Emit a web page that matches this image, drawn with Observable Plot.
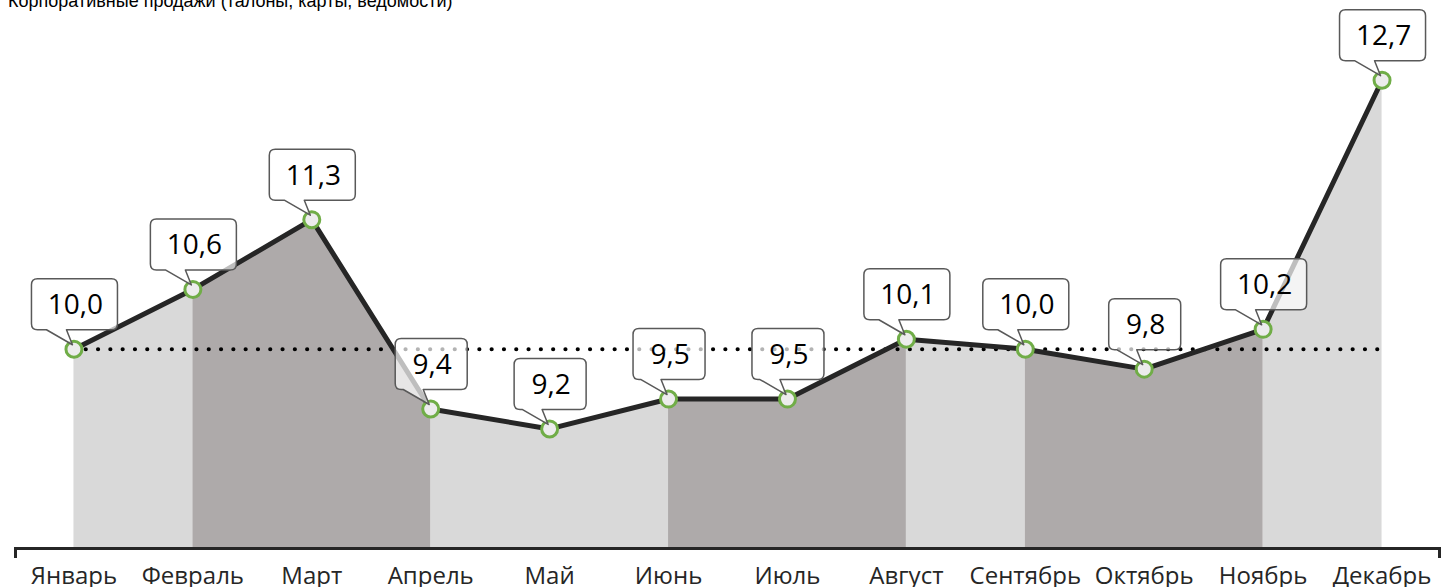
<!DOCTYPE html>
<html><head><meta charset="utf-8">
<script src="https://cdn.jsdelivr.net/npm/d3@7"></script>
<script src="https://cdn.jsdelivr.net/npm/@observablehq/plot@0.6"></script>
<style>
html,body{margin:0;padding:0;background:#fff;overflow:hidden;}
#wrap{position:relative;width:1441px;height:587px;}
#title{position:absolute;left:8px;top:-8px;font:18px/18px "Liberation Sans",Arial,sans-serif;color:#000;white-space:nowrap;z-index:2}
#chart svg{display:block}
</style></head><body>
<div id="wrap"><div id="title">Корпоративные продажи (талоны, карты, ведомости)</div><div id="chart"></div></div>
<script>
// ---- data ----
const months = ["Январь","Февраль","Март","Апрель","Май","Июнь","Июль","Август","Сентябрь","Октябрь","Ноябрь","Декабрь"];
const sales = [10.0, 10.6, 11.3, 9.4, 9.2, 9.5, 9.5, 10.1, 10.0, 9.8, 10.2, 12.7];
const segmentShade = ["light","dark","dark","light","light","dark","dark","light","dark","dark","light"];
const target = 10.0;
const yDomain = [8, 13.5];

// ---- derived tables ----
const rows = months.map((m, i) => ({month: m, value: sales[i], label: sales[i].toFixed(1).replace(".", ",")}));
// merge consecutive segments of the same shade into one run (no seams)
const segs = [];
let run = 0;
segmentShade.forEach((s, i) => {
  if (i > 0 && s !== segmentShade[i - 1]) run++;
  if (i === 0 || s !== segmentShade[i - 1]) segs.push({run, shade: s, month: months[i], value: sales[i]});
  segs.push({run, shade: s, month: months[i + 1], value: sales[i + 1]});
});
const yBase = yDomain[0];

function overlay(index, scales, values, dimensions) {
  const g = d3.create("svg:g");
  const yb = scales.y(yBase);
  // end ticks of the category axis
  [dimensions.marginLeft + 1.5, dimensions.width - dimensions.marginRight - 1.5].forEach(x => {
    g.append("line").attr("x1", x).attr("x2", x).attr("y1", yb).attr("y2", yb + 10)
      .attr("stroke", "#262626").attr("stroke-width", 3);
  });
  // callouts
  rows.forEach(d => {
    const px = scales.x(d.month), py = scales.y(d.value);
    const w = d.label.length >= 4 ? 86 : 72, h = 51, r = 6;
    const L = px - w / 2 + 1, R = L + w, B = py - 19, T = B - h;
    const t1 = px - 27, t2 = px - 7, tx = px - 1, ty = py - 4;
    const p = d3.path();
    p.moveTo(L + r, T);
    p.lineTo(R - r, T); p.quadraticCurveTo(R, T, R, T + r);
    p.lineTo(R, B - r); p.quadraticCurveTo(R, B, R - r, B);
    p.lineTo(t2, B); p.lineTo(tx, ty); p.lineTo(t1, B);
    p.lineTo(L + r, B); p.quadraticCurveTo(L, B, L, B - r);
    p.lineTo(L, T + r); p.quadraticCurveTo(L, T, L + r, T);
    p.closePath();
    g.append("path").attr("d", p.toString())
      .attr("fill", "#fff").attr("fill-opacity", 0.7)
      .attr("stroke", "#595959").attr("stroke-width", 1.5).attr("stroke-linejoin", "round");
    g.append("text").attr("x", (L + R) / 2 + 1).attr("y", (T + B) / 2 + 10)
      .attr("text-anchor", "middle").attr("font-family", "'Open Sans', sans-serif")
      .attr("font-size", 28).attr("fill", "#000").text(d.label);
  });
  return g.node();
}

const chart = Plot.plot({
  width: 1441, height: 587,
  marginTop: 0, marginBottom: 39, marginLeft: 14, marginRight: 0,
  style: {fontFamily: "'Open Sans', sans-serif", color: "#262626", background: "#fff", overflow: "visible"},
  x: {type: "point", domain: months, padding: 0.5, round: false},
  y: {domain: yDomain, axis: null},
  marks: [
    Plot.area(segs.filter(d => d.shade === "light"), {x1: "month", y1: () => yBase, y2: "value", z: "run", fill: "#d9d9d9"}),
    Plot.area(segs.filter(d => d.shade === "dark"), {x1: "month", y1: () => yBase, y2: "value", z: "run", fill: "#aeaaaa"}),
    Plot.ruleY([{y: target, x1: months[0], x2: months[months.length - 1]}], {y: "y", x1: "x1", x2: "x2", stroke: "#000", strokeWidth: 4.2, strokeDasharray: "0,12.3", strokeLinecap: "round"}),
    Plot.line(rows, {x: "month", y: "value", stroke: "#262626", strokeWidth: 5, strokeLinejoin: "round"}),
    Plot.ruleY([yBase], {stroke: "#262626", strokeWidth: 3}),
    Plot.dot(rows, {x: "month", y: "value", r: 8, fill: "#ececec", stroke: "#70ad47", strokeWidth: 3}),
    Plot.axisX({tickSize: 0, tickPadding: 18, fontSize: 24, label: null, fill: "#262626"}),
    overlay
  ]
});
document.getElementById("chart").appendChild(chart);
</script>
</body></html>
